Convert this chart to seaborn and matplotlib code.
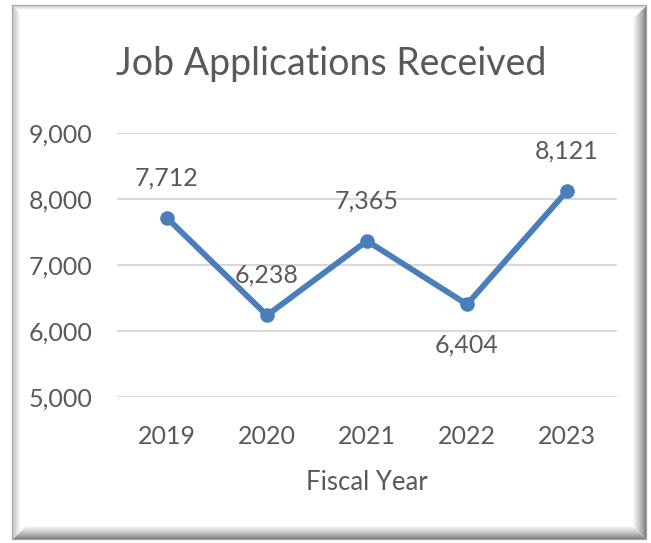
import matplotlib
matplotlib.use("Agg")
import matplotlib.pyplot as plt
import seaborn as sns
import pandas as pd

# Data
years = ["2019", "2020", "2021", "2022", "2023"]
applications = [7712, 6238, 7365, 6404, 8121]
label_side = ["above", "above", "above", "below", "above"]
y_ticks = [5000, 6000, 7000, 8000, 9000]

df = pd.DataFrame({"Fiscal Year": years, "Applications": applications})

sns.set_theme(style="white")
plt.rcParams["font.family"] = ["Lato", "DejaVu Sans"]

W, H, DPI = 651, 543, 100
fig = plt.figure(figsize=(W / DPI, H / DPI), dpi=DPI)
fig.patch.set_facecolor("white")

# Bevelled frame drawn on a full-figure background axes in pixel units
bg = fig.add_axes([0, 0, 1, 1], zorder=-10)
bg.set_xlim(0, W)
bg.set_ylim(H, 0)
bg.axis("off")
L, T, R, B = 11.5, 4.5, 645.5, 538.5
bg.plot([L, R, R, L, L], [T, T, B, B, T], color="#a6a6a6", lw=0.9)
depth = 13
for d in range(depth):
    g = 0.50 + 0.50 * (d / depth) ** 0.8
    col = (g, g, g)
    # right edge
    bg.plot([R - 1 - d, R - 1 - d], [T + 1 + d, B - 1 - d], color=col, lw=0.8,
            solid_capstyle="butt")
    # bottom edge
    bg.plot([L + 1 + d, R - 1 - d], [B - 1 - d, B - 1 - d], color=col, lw=0.8,
            solid_capstyle="butt")
for d in range(7):
    g = 0.78 + 0.21 * d / 7
    bg.plot([L + 1 + d, L + 1 + d], [T + 1 + d, B - 1 - d], color=(g, g, g), lw=0.8,
            solid_capstyle="butt")
for d in range(3):
    g = 0.82 + 0.15 * d / 3
    bg.plot([L + 1 + d, R - 1 - d], [T + 1 + d, T + 1 + d], color=(g, g, g), lw=0.8,
            solid_capstyle="butt")

# Main plot area
ax = fig.add_axes([117 / W, 1 - 397 / H, 500 / W, 264 / H])
ax.set_facecolor("none")

line_color = "#4a7ebb"
text_color = "#595959"
fs = 18

sns.lineplot(data=df, x="Fiscal Year", y="Applications", ax=ax, color=line_color,
             linewidth=4.2, marker="o", markersize=10.5, markeredgewidth=0,
             sort=False, zorder=3)

ax.set_xlim(-0.5, len(years) - 0.5)
ax.set_ylim(y_ticks[0], y_ticks[-1])
ax.set_yticks(y_ticks)
ax.set_yticklabels([f"{v:,}" for v in y_ticks])
ax.yaxis.grid(True, color="#d9d9d9", linewidth=1.5)
ax.xaxis.grid(False)
for s in ax.spines.values():
    s.set_visible(False)
ax.tick_params(axis="both", length=0, labelsize=fs, colors=text_color)
ax.tick_params(axis="y", pad=18)
ax.tick_params(axis="x", pad=20)
ax.set_ylabel("")
ax.set_xlabel("Fiscal Year", fontsize=18.5, color=text_color, labelpad=16)

for i, (v, side) in enumerate(zip(applications, label_side)):
    off = 28.8 if side == "above" else -29.5
    ax.annotate(f"{v:,}", xy=(i, v), xytext=(0, off), textcoords="offset points",
                ha="center", va="center", fontsize=fs, color=text_color)

fig.text(331 / W, 1 - 64 / H, "Job Applications Received", ha="center", va="center",
         fontsize=27, color=text_color)

fig.savefig("out.png", dpi=DPI, facecolor="white")
